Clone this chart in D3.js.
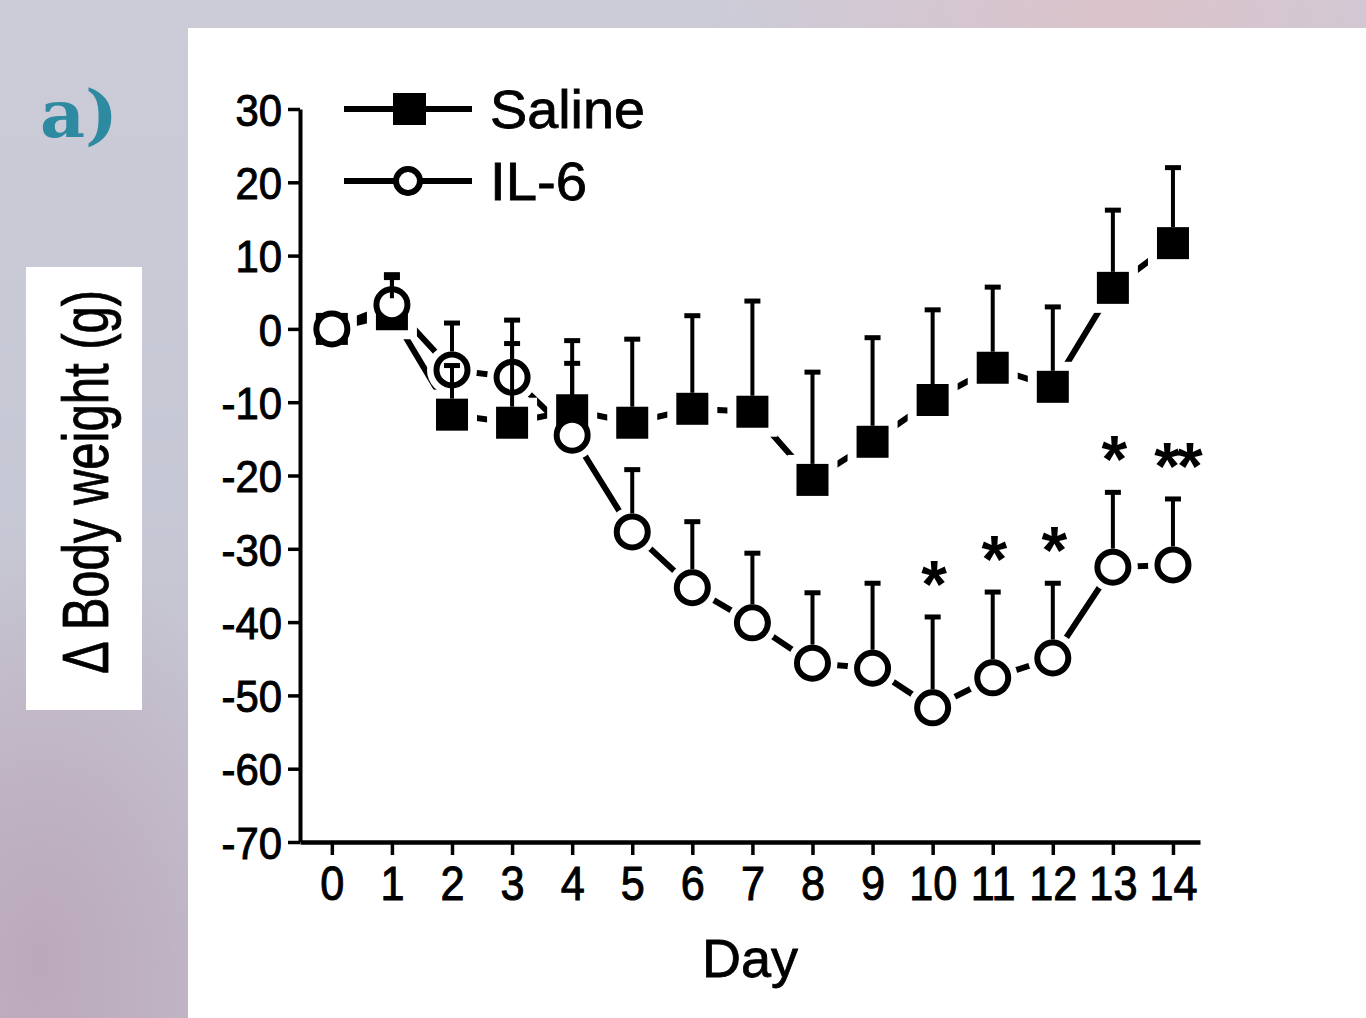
<!DOCTYPE html>
<html>
<head>
<meta charset="utf-8">
<script src="https://cdn.jsdelivr.net/npm/d3@7"></script>
<style>
  html, body { margin: 0; padding: 0; }
  body {
    width: 1366px; height: 1018px; overflow: hidden;
    background:
      radial-gradient(ellipse 420px 160px at 1120px 10px, #dcc3cb 0%, rgba(220,195,203,0) 100%),
      radial-gradient(ellipse 260px 420px at 40px 960px, #bba9bb 0%, rgba(187,169,187,0) 100%),
      linear-gradient(180deg, #cbccd8 0%, #c7c8d5 50%, #c3bccb 100%);
  }
  svg { display: block; }
</style>
</head>
<body>
<svg id="chart" width="1366" height="1018"></svg>
<script>
// Body weight change after saline / IL-6, days 0..14
const days = [0, 1, 2, 3, 4, 5, 6, 7, 8, 9, 10, 11, 12, 13, 14];
const salineMean = [0, 2, -11.7, -12.8, -11.1, -12.8, -10.9, -11.3, -20.6, -15.4, -9.7, -5.3, -7.9, 5.6, 11.7];
const salineTop = [null, 7.4, -5.0, 1.2, -1.6, -1.4, 1.8, 3.8, -5.9, -1.2, 2.6, 5.7, 3.0, 16.2, 22.0];
const il6Mean = [0, 3.3, -5.6, -6.6, -14.5, -27.7, -35.3, -40.1, -45.6, -46.3, -51.7, -47.6, -44.9, -32.5, -32.2];
const il6Top = [null, 7.0, 0.8, -2.0, -4.7, -19.2, -26.3, -30.6, -36.0, -34.7, -39.3, -35.9, -34.7, -22.3, -23.2];
const il6Sig = ["", "", "", "", "", "", "", "", "", "", "*", "*", "*", "*", "**"];
const yTicks = [30, 20, 10, 0, -10, -20, -30, -40, -50, -60, -70];

const font = "'Liberation Sans', Arial, sans-serif";
const svg = d3.select("#chart");

// white panel + y label card
svg.append("rect").attr("x", 188).attr("y", 28).attr("width", 1178).attr("height", 990).attr("fill", "#fff");
svg.append("rect").attr("x", 26).attr("y", 267).attr("width", 116).attr("height", 443).attr("fill", "#fff");

svg.append("text")
  .attr("x", 40).attr("y", 137)
  .attr("font-family", "'DejaVu Serif', serif").attr("font-weight", "bold")
  .attr("font-size", 66).attr("fill", "#2e8aa1")
  .attr("textLength", 78).attr("lengthAdjust", "spacingAndGlyphs")
  .text("a)");

svg.append("text")
  .attr("transform", "translate(108,482) rotate(-90)")
  .attr("text-anchor", "middle")
  .attr("font-family", font).attr("font-size", 64)
  .attr("stroke", "#000").attr("stroke-width", 0.8)
  .attr("textLength", 384).attr("lengthAdjust", "spacingAndGlyphs")
  .text("\u0394 Body weight (g)");

// scales
const x = d3.scaleLinear().domain([-0.53, 14.45]).range([300, 1200]);
const y = d3.scaleLinear().domain([-70, 30]).range([842, 109]);

// axes
const yAxis = svg.append("g")
  .attr("transform", `translate(${x(-0.53)},0)`)
  .call(d3.axisLeft(y).tickValues(yTicks).tickSize(12).tickSizeOuter(0).tickPadding(6));
const xAxis = svg.append("g")
  .attr("transform", `translate(0,${y(-70)})`)
  .call(d3.axisBottom(x).tickValues(days).tickSize(13).tickSizeOuter(0).tickPadding(10).tickFormat(d3.format("d")));

yAxis.select(".domain").attr("stroke", "#000").attr("stroke-width", 4);
xAxis.select(".domain").attr("stroke", "#000").attr("stroke-width", 4.5);
svg.selectAll(".tick line").attr("stroke", "#000").attr("stroke-width", 3.5);
yAxis.selectAll("text").text(d => d < 0 ? "-" + Math.abs(d) : d);
yAxis.selectAll("text").attr("font-family", font).attr("font-size", 45).attr("fill", "#000")
  .attr("stroke", "#000").attr("stroke-width", 1)
  .attr("dy", "0.36em")
  .each(function () { d3.select(this).attr("textLength", this.getComputedTextLength() * 0.93).attr("lengthAdjust", "spacingAndGlyphs"); });
xAxis.selectAll("text").attr("font-family", font).attr("font-size", 48).attr("fill", "#000")
  .attr("stroke", "#000").attr("stroke-width", 1)
  .attr("dy", "0.72em")
  .each(function () { d3.select(this).attr("textLength", this.getComputedTextLength() * 0.9).attr("lengthAdjust", "spacingAndGlyphs"); });

svg.append("text")
  .attr("x", 750).attr("y", 977)
  .attr("text-anchor", "middle")
  .attr("font-family", font).attr("font-size", 54)
  .attr("stroke", "#000").attr("stroke-width", 0.8)
  .attr("textLength", 96).attr("lengthAdjust", "spacingAndGlyphs")
  .text("Day");

// series
const series = [
  { name: "Saline", mean: salineMean, top: salineTop, shape: "square" },
  { name: "IL-6", mean: il6Mean, top: il6Top, shape: "circle" }
];
const sq = 32, cr = 15.5, halo = 25;

const line = d3.line().x((d, i) => x(days[i])).y(d => y(d));
series.forEach(s => {
  svg.append("path").attr("d", line(s.mean))
    .attr("fill", "none").attr("stroke", "#000").attr("stroke-width", 6);
});

// white halos cut the connecting lines near each marker
series.forEach(s => {
  const g = svg.append("g").attr("fill", "#fff");
  s.mean.forEach((v, i) => {
    if (s.shape === "square") {
      g.append("rect").attr("x", x(days[i]) - halo).attr("y", y(v) - halo)
        .attr("width", halo * 2).attr("height", halo * 2);
    } else {
      g.append("circle").attr("cx", x(days[i])).attr("cy", y(v)).attr("r", halo);
    }
  });
});

// markers
series.forEach(s => {
  const g = svg.append("g");
  s.mean.forEach((v, i) => {
    if (s.shape === "square") {
      g.append("rect").attr("x", x(days[i]) - sq / 2).attr("y", y(v) - sq / 2)
        .attr("width", sq).attr("height", sq).attr("fill", "#000");
    } else {
      g.append("circle").attr("cx", x(days[i])).attr("cy", y(v)).attr("r", cr)
        .attr("fill", "#fff").attr("stroke", "#000").attr("stroke-width", 6);
    }
  });
});

// upper error bars
series.forEach(s => {
  const g = svg.append("g").attr("stroke", "#000");
  const edge = s.shape === "square" ? sq / 2 : cr + 3;
  s.top.forEach((t, i) => {
    if (t == null) return;
    const cx = x(days[i]);
    g.append("line").attr("x1", cx).attr("x2", cx)
      .attr("y1", y(s.mean[i]) - edge).attr("y2", y(t)).attr("stroke-width", 4);
    g.append("line").attr("x1", cx - 8).attr("x2", cx + 8)
      .attr("y1", y(t)).attr("y2", y(t)).attr("stroke-width", 5);
  });
});

// significance marks above IL-6 bars
svg.append("g").selectAll("text")
  .data(il6Sig.map((m, i) => ({ m, i })).filter(d => d.m))
  .join("text")
  .attr("x", d => x(days[d.i]) + (d.m.length > 1 ? 4 : 0))
  .attr("y", d => y(il6Top[d.i]) - 46 + 36)
  .attr("text-anchor", "middle")
  .attr("font-family", font).attr("font-weight", "bold").attr("font-size", 66)
  .attr("letter-spacing", -3)
  .text(d => d.m);

// legend
const legend = svg.append("g");
[{ s: series[0], ly: 109 }, { s: series[1], ly: 181 }].forEach(({ s, ly }) => {
  legend.append("line").attr("x1", 344).attr("x2", 472).attr("y1", ly).attr("y2", ly)
    .attr("stroke", "#000").attr("stroke-width", 6);
  if (s.shape === "square") {
    legend.append("rect").attr("x", 393).attr("y", ly - 16).attr("width", 33).attr("height", 32).attr("fill", "#000");
  } else {
    legend.append("circle").attr("cx", 408).attr("cy", ly).attr("r", 12)
      .attr("fill", "#fff").attr("stroke", "#000").attr("stroke-width", 6);
  }
  legend.append("text").attr("x", 490).attr("y", ly + 19)
    .attr("font-family", font).attr("font-size", 54)
    .attr("stroke", "#000").attr("stroke-width", 0.8)
    .attr("textLength", s.name === "Saline" ? 155 : 97).attr("lengthAdjust", "spacingAndGlyphs")
    .text(s.name);
});
</script>
</body>
</html>
